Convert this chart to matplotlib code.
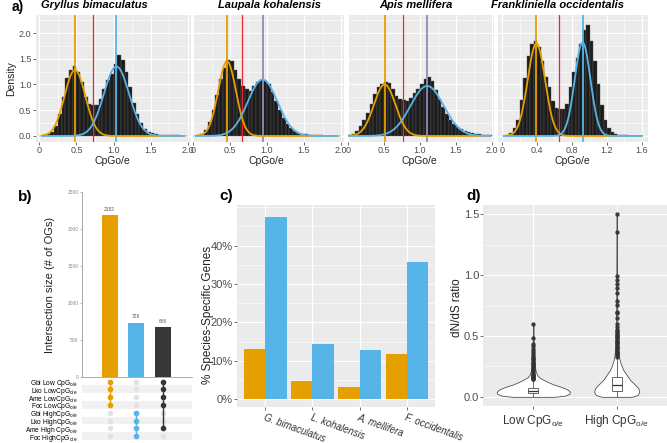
import numpy as np
import matplotlib
matplotlib.use("Agg")
import matplotlib.pyplot as plt
from matplotlib.ticker import MultipleLocator

plt.rcParams["font.family"] = ["Liberation Sans", "DejaVu Sans"]
plt.rcParams["mathtext.fontset"] = "custom"
plt.rcParams["mathtext.rm"] = "Liberation Sans"
plt.rcParams["mathtext.it"] = "Liberation Sans:italic"
plt.rcParams["mathtext.bf"] = "Liberation Sans:bold"

W, H = 667, 443
ORANGE = "#E69F00"
BLUE = "#56B4E9"
RED = "#E8282B"
PURPLE = "#8E8CBA"
DARK = "#363636"

# ==== DATA
# a) CpG o/e histograms (density per bin) + two-component normal fits
species = ["Gryllus bimaculatus", "Laupala kohalensis", "Apis mellifera",
           "Frankliniella occidentalis"]
bin_width = [0.05, 0.05, 0.05, 0.04]
gbi_density = [0.0, 0.01, 0.03, 0.08, 0.2, 0.42, 0.75, 1.12, 1.28, 1.36,
               1.25, 1.05, 0.75, 0.62, 0.6, 0.6, 0.72, 0.92, 1.08, 1.2,
               1.4, 1.57, 1.48, 1.25, 0.95, 0.65, 0.42, 0.25, 0.14, 0.08,
               0.05, 0.03, 0.02, 0.01, 0.01, 0.01, 0.01, 0.01, 0.005, 0.0]
lko_density = [0.0, 0.01, 0.04, 0.12, 0.28, 0.5, 0.8, 1.1, 1.32, 1.47,
               1.45, 1.28, 1.1, 0.97, 0.92, 0.88, 0.98, 1.05, 1.08, 1.07,
               1.0, 0.85, 0.68, 0.5, 0.35, 0.24, 0.15, 0.09, 0.06, 0.04,
               0.03, 0.02, 0.01, 0.01, 0.01, 0.005, 0.005, 0.005, 0.003, 0.0]
ame_density = [0.01, 0.04, 0.1, 0.2, 0.32, 0.45, 0.62, 0.82, 0.95, 1.0,
               1.04, 1.02, 0.92, 0.78, 0.72, 0.69, 0.68, 0.74, 0.83, 0.92,
               1.0, 1.1, 1.15, 1.06, 0.9, 0.72, 0.57, 0.43, 0.32, 0.24,
               0.17, 0.13, 0.09, 0.07, 0.05, 0.04, 0.03, 0.02, 0.015, 0.01]
foc_density = [0.0, 0.02, 0.06, 0.15, 0.32, 0.7, 1.12, 1.55, 1.78, 1.84,
               1.72, 1.45, 1.15, 0.95, 0.68, 0.54, 0.52, 0.53, 0.62, 0.95,
               1.25, 1.52, 1.78, 2.05, 2.15, 1.85, 1.45, 1.0, 0.6, 0.32,
               0.15, 0.07, 0.04, 0.02, 0.015, 0.01, 0.008, 0.005, 0.004, 0.003]
densities = [gbi_density, lko_density, ame_density, foc_density]
# (mean, sd, weight) of the low / high CpG components
low_fit = [(0.48, 0.14, 0.45), (0.46, 0.12, 0.436), (0.51, 0.15, 0.376), (0.39, 0.10, 0.45)]
high_fit = [(1.04, 0.17, 0.575), (0.94, 0.20, 0.55), (1.10, 0.23, 0.56), (0.92, 0.09, 0.41)]
threshold = [0.73, 0.667, 0.76, 0.645]
fit_range = [(0.04, 1.95), (0.04, 1.95), (0.02, 1.98), (0.02, 1.6)]
high_line_col = [BLUE, PURPLE, PURPLE, BLUE]

# b) upset plot
upset_rows = ["Gbi Low CpG", "Lko LowCpG", "Ame LowCpG", "Foc LowCpG",
              "Gbi HighCpG", "Lko HighCpG", "Ame High CpG", "Foc HighCpG"]
upset_sizes = [2182, 728, 666]
upset_members = [[0, 1, 2, 3], [4, 5, 6, 7], [0, 1, 2, 3, 6]]
upset_colors = [ORANGE, BLUE, DARK]

# c) species-specific genes (%)
c_species = ["G. bimaculatus", "L. kohalensis", "A. mellifera", "F. occidentalis"]
low_pct = [13.0, 4.8, 3.2, 11.7]
high_pct = [47.6, 14.4, 12.7, 35.8]

# d) dN/dS violins: outline half-widths, box stats, outliers
d_groups = ["Low CpG$_{\\mathrm{o/e}}$", "High CpG$_{\\mathrm{o/e}}$"]
low_violin_y = [0.0, 0.01, 0.025, 0.04, 0.055, 0.07, 0.085, 0.1, 0.12, 0.14,
                0.16, 0.18, 0.22, 0.3, 0.4, 0.5, 0.6]
low_violin_hw = [0.25, 0.38, 0.43, 0.44, 0.42, 0.38, 0.32, 0.25, 0.18, 0.12,
                 0.07, 0.045, 0.025, 0.012, 0.007, 0.004, 0.0]
high_violin_y = [0.0, 0.015, 0.04, 0.07, 0.1, 0.14, 0.18, 0.22, 0.27, 0.32,
                 0.4, 0.5, 0.7, 1.0, 1.25, 1.5]
high_violin_hw = [0.18, 0.25, 0.27, 0.26, 0.22, 0.16, 0.12, 0.08, 0.05, 0.03,
                  0.015, 0.01, 0.006, 0.004, 0.003, 0.0]
low_box = dict(q1=0.033, med=0.05, q3=0.075, whislo=0.0, whishi=0.14)
high_box = dict(q1=0.05, med=0.096, q3=0.16, whislo=0.0, whishi=0.325)
low_outliers = [0.145, 0.15, 0.155, 0.16, 0.165, 0.17, 0.175, 0.18, 0.19, 0.2,
                0.21, 0.22, 0.23, 0.24, 0.25, 0.26, 0.27, 0.28, 0.29, 0.3,
                0.31, 0.32, 0.33, 0.345, 0.36, 0.375, 0.395, 0.42, 0.43, 0.48, 0.6]
high_outliers = [0.33, 0.34, 0.35, 0.36, 0.37, 0.38, 0.39, 0.4, 0.41, 0.42,
                 0.43, 0.44, 0.45, 0.46, 0.47, 0.48, 0.49, 0.5, 0.51, 0.52,
                 0.53, 0.54, 0.55, 0.577, 0.6, 0.645, 0.69, 0.7, 0.755, 0.79,
                 0.85, 0.89, 0.925, 0.96, 0.995, 1.35, 1.5]

# ==== FIGURE
fig = plt.figure(figsize=(W / 100, H / 100), dpi=100)


def box(l, r, t, b):
    # pixel box -> figure fraction
    return [l / W, 1 - b / H, (r - l) / W, (b - t) / H]


def ftext(x, y, s, **kw):
    fig.text(x / W, 1 - y / H, s, **kw)


def gg_panel(ax, size=6.5):
    ax.set_facecolor("#EBEBEB")
    for s in ax.spines.values():
        s.set_visible(False)
    ax.set_axisbelow(True)
    ax.grid(which="major", color="white", lw=0.8)
    ax.grid(which="minor", color="white", lw=0.4)
    ax.tick_params(which="major", length=2, width=0.5, color="#333333",
                   labelcolor="#4D4D4D", labelsize=size, pad=1)
    ax.tick_params(which="minor", length=0)


# ---- a)
a_px = [(35.6, 191.4), (193.0, 344.0), (348.0, 494.0), (498.0, 648.0)]
a_xlim = [(-0.05, 2.05), (0.005, 2.04), (0.04, 2.03), (-0.05, 1.67)]
title_x = [94.5, 270, 416, 557.5]
xlab_x = [112.5, 266, 419, 572]

for i in range(4):
    ax = fig.add_axes(box(a_px[i][0], a_px[i][1], 15, 142))
    gg_panel(ax)
    dens = np.array(densities[i])
    bw = bin_width[i]
    centres = bw * (np.arange(len(dens)) + 0.5)
    ax.bar(centres, dens, width=bw, color="#1C1C1C", edgecolor="#5A5A5A", lw=0.3)

    xs = np.linspace(fit_range[i][0], fit_range[i][1], 300)
    ax.axvline(low_fit[i][0], color=ORANGE, lw=1.3)
    ax.axvline(threshold[i], color=RED, lw=0.9)
    ax.axvline(high_fit[i][0], color=high_line_col[i], lw=1.3)
    for (mu, sd, w), col in [(low_fit[i], ORANGE), (high_fit[i], BLUE)]:
        ys = w / (sd * np.sqrt(2 * np.pi)) * np.exp(-0.5 * ((xs - mu) / sd) ** 2)
        ax.plot(xs, ys, color=col, lw=1.3)

    ax.set_xlim(*a_xlim[i])
    ax.set_ylim(-0.117, 2.35)
    if i < 3:
        ax.set_xticks([0, 0.5, 1.0, 1.5, 2.0])
        ax.set_xticklabels(["0", "0.5", "1.0", "1.5", "2.0"])
        ax.xaxis.set_minor_locator(MultipleLocator(0.25))
    else:
        ax.set_xticks([0, 0.4, 0.8, 1.2, 1.6])
        ax.set_xticklabels(["0", "0.4", "0.8", "1.2", "1.6"])
        ax.xaxis.set_minor_locator(MultipleLocator(0.2))
    ax.set_yticks([0, 0.5, 1.0, 1.5, 2.0])
    ax.yaxis.set_minor_locator(MultipleLocator(0.25))
    if i == 0:
        ax.set_yticklabels(["0.0", "0.5", "1.0", "1.5", "2.0"])
    else:
        ax.tick_params(axis="y", which="both", length=0, labelleft=False)

    ftext(title_x[i], 5.5, species[i], fontsize=8, fontweight="bold",
          fontstyle="italic", ha="center", va="center")
    ftext(xlab_x[i], 161, "CpGo/e", fontsize=7.5, ha="center", va="center",
          color="#222222")

ftext(18, 7, "a)", fontsize=10, fontweight="bold", ha="center", va="center")
ftext(11, 79, "Density", fontsize=7.5, rotation=90, ha="center", va="center",
      color="#222222")

# ---- b) upset
axb = fig.add_axes(box(82, 192, 191.7, 376.7))
xb = np.arange(1, len(upset_sizes) + 1)
axb.bar(xb, upset_sizes, width=0.6, color=upset_colors)
for x, v in zip(xb, upset_sizes):
    axb.text(x, v + 50, str(v), ha="center", va="bottom", fontsize=3.5,
             color="#555555")
axb.set_xlim(-0.04, 4.1)
axb.set_ylim(0, 2500)
axb.set_xticks([])
axb.set_yticks(np.arange(0, 2501, 500))
axb.tick_params(axis="y", labelsize=3.5, length=1.5, width=0.4,
                color="#8A8A8A", labelcolor="#8A8A8A", pad=1)
for s in ["top", "right"]:
    axb.spines[s].set_visible(False)
for s in ["left", "bottom"]:
    axb.spines[s].set_color("#8A8A8A")
    axb.spines[s].set_linewidth(0.5)

axm = fig.add_axes(box(82, 192, 377.6, 440))
n_rows = len(upset_rows)
axm.set_xlim(-0.04, 4.1)
axm.set_ylim(n_rows - 0.5, -0.5)
for r in range(n_rows):
    if r % 2 == 1:
        axm.axhspan(r - 0.5, r + 0.5, color="#F1F1F1", lw=0)
for c, members in enumerate(upset_members):
    x = c + 1
    axm.plot([x] * n_rows, range(n_rows), "o", ms=3, color="#E2E2E2", lw=0)
    axm.plot([x, x], [min(members), max(members)], color=upset_colors[c], lw=1)
    axm.plot([x] * len(members), members, "o", ms=3, color=upset_colors[c], lw=0)
axm.set_xticks([])
axm.set_yticks(range(n_rows))
axm.set_yticklabels([r + "$_{\\mathrm{o/e}}$" for r in upset_rows], fontsize=4.8)
axm.tick_params(axis="y", length=0, pad=3)
for s in axm.spines.values():
    s.set_visible(False)

ftext(25, 197, "b)", fontsize=11, fontweight="bold", ha="center", va="center")
ftext(50, 285, "Intersection size (# of OGs)", fontsize=8, rotation=90,
      ha="center", va="center", color="#222222")

# ---- c)
axc = fig.add_axes(box(237, 435, 205, 406.7))
gg_panel(axc, size=8)
xc = np.arange(1, len(c_species) + 1)
axc.bar(xc - 0.225, low_pct, 0.45, color=ORANGE)
axc.bar(xc + 0.225, high_pct, 0.45, color=BLUE)
axc.set_xlim(0.4, 4.6)
axc.set_ylim(-2.0, 50.6)
axc.set_yticks([0, 10, 20, 30, 40])
axc.set_yticklabels(["0%", "10%", "20%", "30%", "40%"])
axc.yaxis.set_minor_locator(MultipleLocator(5))
axc.set_xticks(xc)
axc.set_xticklabels(c_species, fontstyle="italic", fontsize=7, rotation=-20,
                    ha="left", va="top", rotation_mode="anchor",
                    color="#333333")
axc.tick_params(axis="x", pad=2)

ftext(226, 196, "c)", fontsize=11, fontweight="bold", ha="center", va="center")
ftext(208, 315, "% Species-Specific Genes", fontsize=8.5, rotation=90,
      ha="center", va="center", color="#222222")

# ---- d)
axd = fig.add_axes(box(483.3, 666.7, 205, 406))
gg_panel(axd, size=8)
violins = [(low_violin_y, low_violin_hw), (high_violin_y, high_violin_hw)]
for pos, (vy, vhw) in enumerate(violins, start=1):
    vhw = np.array(vhw)
    axd.fill_betweenx(vy, pos - vhw, pos + vhw, facecolor="white",
                      edgecolor="#505050", lw=0.6, zorder=2)
stats = [dict(low_box, fliers=low_outliers), dict(high_box, fliers=high_outliers)]
axd.bxp(stats, positions=[1, 2], widths=0.12, showcaps=False, patch_artist=True,
        manage_ticks=False,
        boxprops=dict(facecolor="white", edgecolor="#505050", lw=0.6),
        medianprops=dict(color="#333333", lw=0.9),
        whiskerprops=dict(color="#505050", lw=0.6),
        flierprops=dict(marker="o", ms=2.2, mfc="#333333", mec="#333333",
                        alpha=0.85),
        zorder=3)
axd.set_xlim(0.4, 2.6)
axd.set_ylim(-0.075, 1.575)
axd.set_xticks([1, 2])
axd.set_xticklabels(d_groups, fontsize=8.5, color="#333333")
axd.set_yticks([0, 0.5, 1.0, 1.5])
axd.set_yticklabels(["0.0", "0.5", "1.0", "1.5"])
axd.yaxis.set_minor_locator(MultipleLocator(0.25))
axd.tick_params(axis="x", pad=3)

ftext(474, 196, "d)", fontsize=11, fontweight="bold", ha="center", va="center")
ftext(456.5, 307.5, "dN/dS ratio", fontsize=8.5, rotation=90,
      ha="center", va="center", color="#222222")

fig.savefig("out.png", dpi=100)
